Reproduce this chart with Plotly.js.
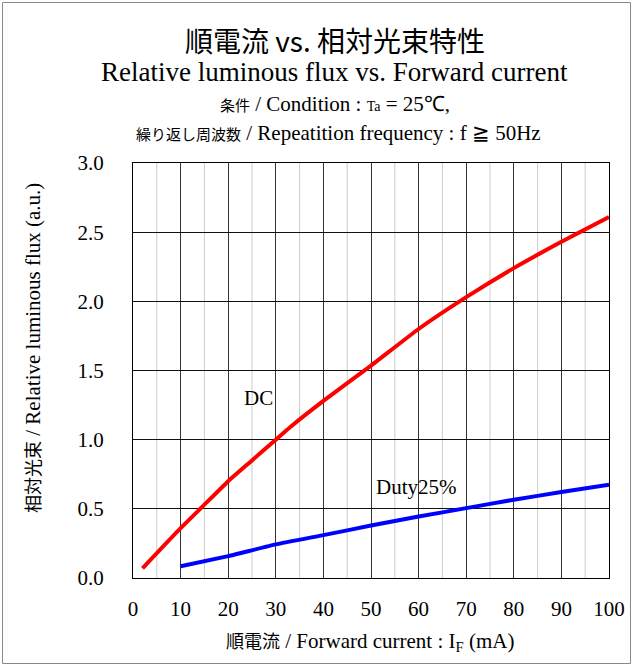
<!DOCTYPE html>
<html><head><meta charset="utf-8">
<script src="https://cdn.plot.ly/plotly-3.0.1.min.js"></script>
<style>html,body{margin:0;padding:0;background:#fff}#chart{width:632px;height:665px}</style>
</head><body><div id="chart"></div>
<script>
const dcCurrent = [2, 10, 15, 20, 25, 30, 33, 40, 50, 60, 70, 80, 90, 100];
const dcFlux    = [0.07, 0.36, 0.53, 0.70, 0.85, 1.00, 1.09, 1.28, 1.535, 1.80, 2.03, 2.24, 2.43, 2.61];
const dutyCurrent = [10, 20, 30, 40, 50, 60, 70, 80, 90, 100];
const dutyFlux    = [0.085, 0.158, 0.243, 0.31, 0.379, 0.444, 0.505, 0.566, 0.621, 0.675];
const xTicks = [0, 10, 20, 30, 40, 50, 60, 70, 80, 90, 100];
const yTicks = [0.0, 0.5, 1.0, 1.5, 2.0, 2.5, 3.0];

const SERIF = "Liberation Serif";
const CJK = "Noto Sans CJK JP";

const W = 632, H = 665, L = 133, R = 23, T = 163, B = 87;
const pw = W - L - R, ph = H - T - B;
const px = v => (v - L) / pw;
const py = v => (H - B - v) / ph;

const traces = [
  {x: dcCurrent, y: dcFlux, mode: 'lines', line: {color: '#ff0000', width: 4, shape: 'spline', smoothing: 0.4}, hoverinfo: 'skip'},
  {x: dutyCurrent, y: dutyFlux, mode: 'lines', line: {color: '#0000ff', width: 4, shape: 'spline', smoothing: 0.4}, hoverinfo: 'skip'}
];

const shapes = [];
for (let v = 5; v < 100; v += 10) {
  shapes.push({type: 'line', xref: 'x', yref: 'paper', x0: v, x1: v, y0: 0, y1: 1, line: {color: '#cccccc', width: 1}, layer: 'below'});
}
shapes.push({type: 'rect', xref: 'paper', yref: 'paper', x0: px(2.5), x1: px(630.5), y0: py(2.5), y1: py(663.5), line: {color: '#888888', width: 1}});

const ann = (text, x, y, opts) => Object.assign({text, xref: 'paper', yref: 'paper', x: px(x), y: py(y), showarrow: false, xanchor: 'center', yanchor: 'middle'}, opts);

const annotations = [
  ann('順電流 vs. 相対光束特性', 335, 40, {font: {family: CJK, size: 28, color: '#000'}}),
  ann('Relative luminous flux vs. Forward current', 334, 72, {font: {family: SERIF, size: 27, color: '#000'}}),
  ann('<span style="font-family:Noto Sans CJK JP;font-size:15px">条件</span> / Condition : <span style="font-size:14px">Ta</span> = 25℃,', 335, 104, {font: {family: SERIF, size: 21, color: '#000'}}),
  ann('<span style="font-family:Noto Sans CJK JP;font-size:15px">繰り返し周波数</span> / Repeatition frequency : f ≧ 50Hz', 338, 133, {font: {family: SERIF, size: 21, color: '#000'}}),
  ann('<span style="font-family:Noto Sans CJK JP;font-size:18px">順電流</span> / Forward current : I<sub>F</sub> (mA)', 370, 641, {font: {family: SERIF, size: 21, color: '#000'}}),
  ann('<span style="font-family:Noto Sans CJK JP;font-size:18px">相対光束</span> / Relative luminous flux (a.u.)', 32, 348, {textangle: -90, font: {family: SERIF, size: 21, color: '#000'}}),
  {text: 'DC', xref: 'x', yref: 'y', x: 26.3, y: 1.30, showarrow: false, font: {family: SERIF, size: 21, color: '#000'}},
  {text: 'Duty25%', xref: 'x', yref: 'y', x: 59.5, y: 0.655, showarrow: false, font: {family: SERIF, size: 21, color: '#000'}}
];

const layout = {
  width: W, height: H,
  margin: {l: L, r: R, t: T, b: B, pad: 0},
  paper_bgcolor: '#fff', plot_bgcolor: '#fff',
  showlegend: false,
  xaxis: {range: [0, 100], tickvals: xTicks, ticktext: xTicks.map(String), showgrid: true, gridcolor: '#333', gridwidth: 1,
          showline: true, linecolor: '#000', linewidth: 1, mirror: true, zeroline: false, ticks: '', ticklabelstandoff: 12,
          tickfont: {family: SERIF, size: 21, color: '#000'}, fixedrange: true},
  yaxis: {range: [0, 3], tickvals: yTicks, ticktext: yTicks.map(v => v.toFixed(1)), showgrid: true, gridcolor: '#111', gridwidth: 1,
          showline: true, linecolor: '#000', linewidth: 1, mirror: true, zeroline: false, ticks: '', ticklabelstandoff: 24,
          tickfont: {family: SERIF, size: 21, color: '#000'}, fixedrange: true},
  shapes, annotations
};

Plotly.newPlot('chart', traces, layout, {displayModeBar: false, staticPlot: true});
</script>
</body></html>
